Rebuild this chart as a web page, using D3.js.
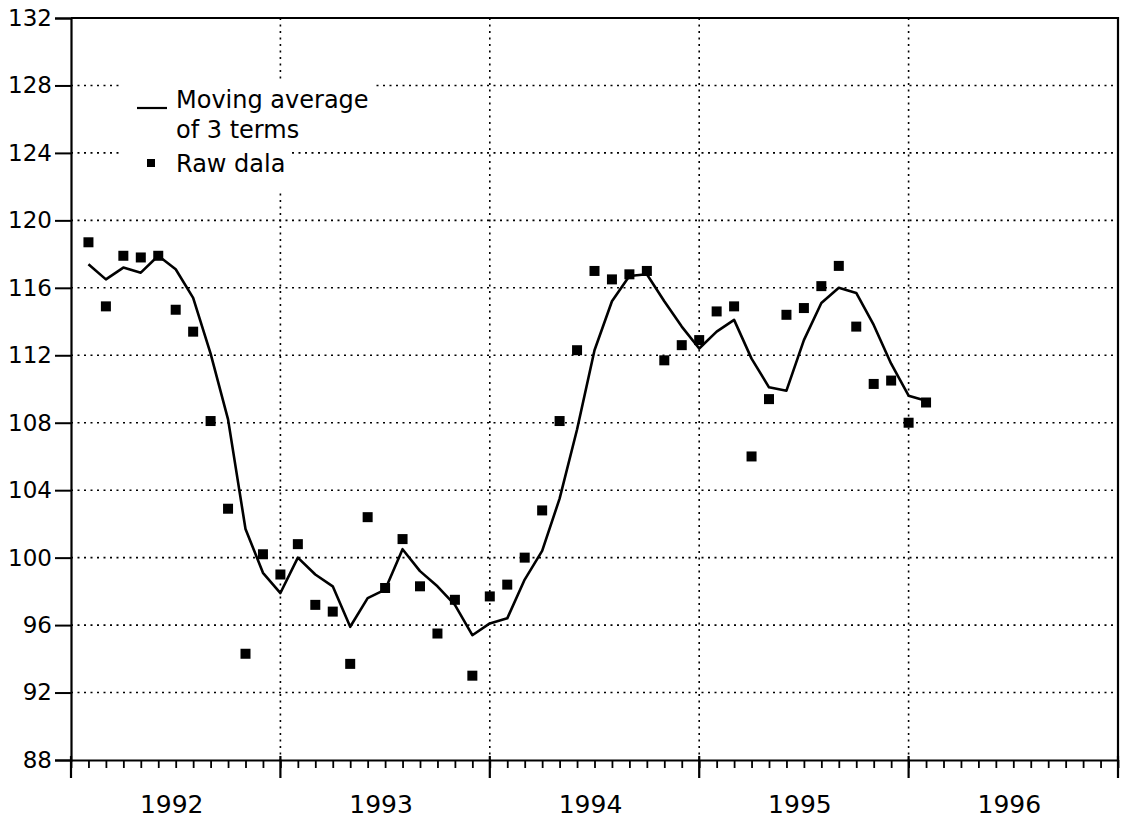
<!DOCTYPE html>
<meta charset="utf-8">
<style>
  body { margin: 0; background: #fff; }
  text { font-family: "DejaVu Sans", sans-serif; fill: #000; }
</style>

<!-- Load d3.js -->
<script src="https://d3js.org/d3.v7.min.js"></script>

<div id="my_dataviz"></div>

<script>

// months counted from the start of 1992 (1 = end of Jan 1992)
var months = d3.range(1, 50)

// raw monthly values
var raw = [118.7, 114.9, 117.9, 117.8, 117.9, 114.7, 113.4, 108.1, 102.9, 94.3, 100.2, 99.0,
           100.8, 97.2, 96.8, 93.7, 102.4, 98.2, 101.1, 98.3, 95.5, 97.5, 93.0, 97.7,
           98.4, 100.0, 102.8, 108.1, 112.3, 117.0, 116.5, 116.8, 117.0, 111.7, 112.6, 112.9,
           114.6, 114.9, 106.0, 109.4, 114.4, 114.8, 116.1, 117.3, 113.7, 110.3, 110.5, 108.0,
           109.2]

// moving average of 3 terms, as drawn
var movAvg = [117.4, 116.5, 117.2, 116.9, 117.9, 117.1, 115.4, 112.1, 108.2, 101.7, 99.1, 97.9,
              100.0, 99.0, 98.3, 95.9, 97.6, 98.1, 100.5, 99.2, 98.3, 97.2, 95.4, 96.1,
              96.4, 98.7, 100.4, 103.5, 107.6, 112.3, 115.2, 116.7, 116.8, 115.2, 113.7, 112.4,
              113.4, 114.1, 111.8, 110.1, 109.9, 112.9, 115.1, 116.0, 115.7, 113.8, 111.5, 109.6,
              109.3]

var years = ["1992", "1993", "1994", "1995", "1996"]
var yTicks = [88, 92, 96, 100, 104, 108, 112, 116, 120, 124, 128, 132]
var legendLabels = ["Moving average", "of 3 terms", "Raw dala"]

// dimensions
var width = 1130,
    height = 829,
    plotLeft = 71, plotRight = 1118, plotTop = 18, plotBottom = 760

var svg = d3.select("#my_dataviz")
  .append("svg")
    .attr("width", width)
    .attr("height", height)

var x = d3.scaleLinear().domain([0, 60]).range([plotLeft, plotRight])
var y = d3.scaleLinear().domain([88, 132]).range([plotBottom, plotTop])

// dotted grid
svg.append("g")
  .selectAll("line")
  .data(yTicks.slice(1, -1))
  .enter().append("line")
    .attr("x1", plotLeft).attr("x2", plotRight)
    .attr("y1", function(d) { return y(d) }).attr("y2", function(d) { return y(d) })
    .attr("stroke", "#000").attr("stroke-width", 1.6)
    .attr("stroke-dasharray", "2,4.5")

svg.append("g")
  .selectAll("line")
  .data([12, 24, 36, 48])
  .enter().append("line")
    .attr("x1", function(d) { return x(d) }).attr("x2", function(d) { return x(d) })
    .attr("y1", plotTop).attr("y2", plotBottom)
    .attr("stroke", "#000").attr("stroke-width", 1.6)
    .attr("stroke-dasharray", "2,4.5")

// frame: top and right
svg.append("path")
  .attr("d", "M" + plotLeft + "," + plotTop + "H" + plotRight + "V" + plotBottom)
  .attr("fill", "none").attr("stroke", "#000").attr("stroke-width", 2.2)

// y axis
var yAxis = svg.append("g")
  .attr("transform", "translate(" + plotLeft + ",0)")
  .call(d3.axisLeft(y).tickValues(yTicks).tickSize(16).tickPadding(3).tickFormat(d3.format("d")))
yAxis.select(".domain").attr("stroke-width", 2.2)
yAxis.selectAll(".tick line").attr("stroke-width", 2)
yAxis.selectAll("text").style("font-size", "23px").style("font-family", "DejaVu Sans")

// x axis, monthly ticks
var xAxis = svg.append("g")
  .attr("transform", "translate(0," + plotBottom + ")")
  .call(d3.axisBottom(x).tickValues(d3.range(0, 61)).tickSize(8).tickSizeOuter(0).tickFormat(""))
xAxis.select(".domain").attr("stroke-width", 2.2)
xAxis.selectAll(".tick line").attr("stroke-width", 1.8)

// year ticks
svg.append("g")
  .selectAll("line")
  .data([0, 12, 24, 36, 48, 60])
  .enter().append("line")
    .attr("x1", function(d) { return x(d) }).attr("x2", function(d) { return x(d) })
    .attr("y1", plotBottom - 4).attr("y2", plotBottom + 18)
    .attr("stroke", "#000").attr("stroke-width", 2.2)

// year labels
svg.append("g")
  .selectAll("text")
  .data(years)
  .enter().append("text")
    .attr("x", function(d, i) { return x(6 + 12 * i) - 4 })
    .attr("y", 813)
    .attr("text-anchor", "middle")
    .style("font-size", "25px")
    .text(function(d) { return d })

// moving average line
var line = d3.line()
  .x(function(d, i) { return x(months[i]) })
  .y(function(d) { return y(d) })

svg.append("path")
  .datum(movAvg)
  .attr("d", line)
  .attr("fill", "none")
  .attr("stroke", "#000")
  .attr("stroke-width", 2.6)
  .attr("stroke-linejoin", "round")

// raw data squares
svg.append("g")
  .selectAll("rect")
  .data(raw)
  .enter().append("rect")
    .attr("x", function(d, i) { return x(months[i]) - 5 })
    .attr("y", function(d) { return y(d) - 5 })
    .attr("width", 10).attr("height", 10)
    .attr("fill", "#000")

// legend
var legend = svg.append("g")
var bg = legend.append("g")
var texts = legend.selectAll("text")
  .data(legendLabels)
  .enter().append("text")
    .attr("x", 176)
    .attr("y", function(d, i) { return [108, 138, 172][i] })
    .style("font-size", "24px")
    .text(function(d) { return d })

// white boxes that interrupt the grid behind the legend
var w1 = Math.max(texts.nodes()[0].getBBox().width, texts.nodes()[1].getBBox().width)
var w2 = texts.nodes()[2].getBBox().width
bg.append("rect").attr("x", 122).attr("y", 80).attr("width", 176 + w1 + 6 - 122).attr("height", 66).attr("fill", "#fff")
bg.append("rect").attr("x", 122).attr("y", 146).attr("width", 176 + w2 + 6 - 122).attr("height", 44).attr("fill", "#fff")

legend.append("line")
  .attr("x1", 137).attr("x2", 167).attr("y1", 108).attr("y2", 108)
  .attr("stroke", "#000").attr("stroke-width", 2.2)
legend.append("rect")
  .attr("x", 147).attr("y", 159).attr("width", 8).attr("height", 8)
  .attr("fill", "#000")

</script>
